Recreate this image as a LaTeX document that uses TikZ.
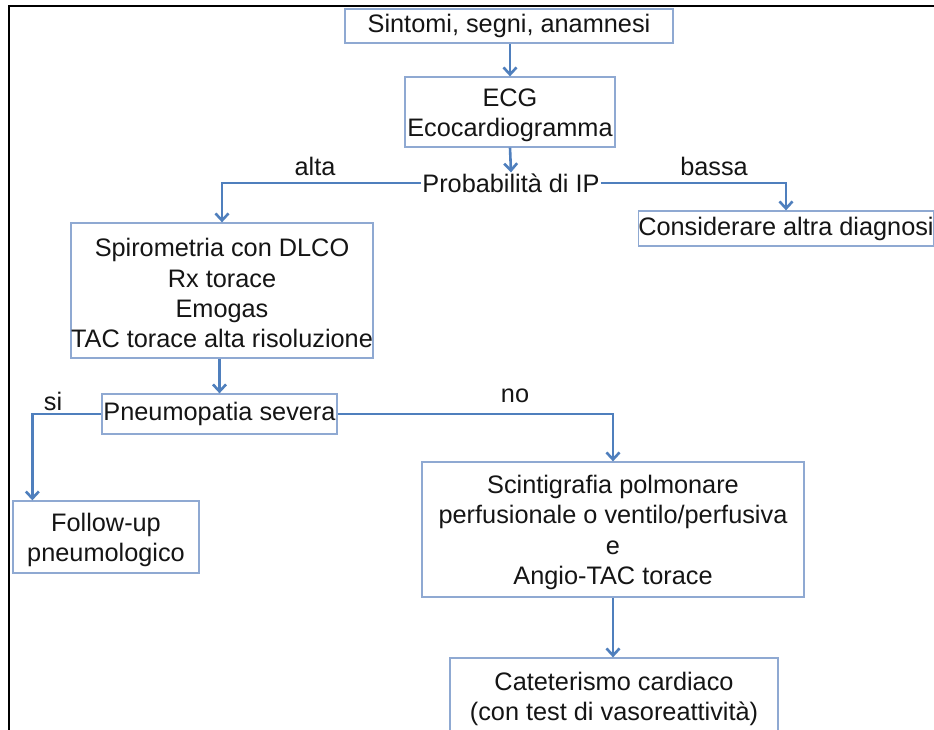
\documentclass[tikz,border=0pt]{standalone}
\usepackage{fontspec}
\setmainfont{Liberation Sans}
\usetikzlibrary{arrows.meta,calc}
\definecolor{boxblue}{HTML}{8FA9D2}
\definecolor{arrblue}{HTML}{4F7FBD}
\definecolor{txt}{HTML}{151515}
\newcommand\tpstrut{\rule{0pt}{24pt}}
\tikzset{
  box/.style={draw=boxblue, line width=1.3pt, inner sep=0pt, align=center, text=txt,
    font=\fontsize{25.3}{30.3}\selectfont},
  lbl/.style={inner sep=1pt, text=txt, font=\fontsize{25.3}{30}\selectfont},
  conn/.style={draw=arrblue, line width=2.6pt, -{Straight Barb[length=7pt,width=13pt]}},
}
\begin{document}
\begin{tikzpicture}[x=1pt,y=-1pt]
\clip (0,0) rectangle (934,729);
\fill[white] (0,0) rectangle (934,729);
\draw[line width=2pt, black] (936,6) -- (9,6) -- (9,731);

\node[box, minimum width=328pt, minimum height=34pt] (s1) at (509,26) {Sintomi, segni, anamnesi};
\node[box, minimum width=210pt, minimum height=70pt] (ecg) at (510,112) {\tpstrut ECG\\Ecocardiogramma};
\node[lbl] (prob) at (511,183) {Probabilità di IP};
\node[lbl] (alta) at (315,166) {alta};
\node[lbl] (bassa) at (714,166) {bassa};
\node[box, minimum width=300pt, minimum height=135pt] (spiro) at (222,290.5)
  {\tpstrut Spirometria con DLCO\\Rx torace\\Emogas\\TAC torace alta risoluzione};
\node[box, minimum width=294pt, minimum height=35pt] (cons) at (786,228.5) {Considerare altra diagnosi};
\node[box, minimum width=235pt, minimum height=40pt] (pneu) at (219.5,414) {Pneumopatia severa};
\node[lbl] (si) at (53,401) {si};
\node[lbl] (no) at (515,396) {no};
\node[box, minimum width=186pt, minimum height=72pt] (follow) at (106,537) {\tpstrut Follow-up\\pneumologico};
\node[box, minimum width=382pt, minimum height=135pt] (scint) at (613,529.5)
  {\tpstrut Scintigrafia polmonare\\perfusionale o ventilo/perfusiva\\e\\Angio-TAC torace};
\node[box, minimum width=328pt, minimum height=76pt] (cat) at (614,696)
  {\tpstrut Cateterismo cardiaco\\(con test di vasoreattività)};

\draw[conn] (s1.south -| ecg.north) -- (ecg.north);
\draw[conn] (ecg.south) -- (prob.north);
\draw[conn] (prob.west) -| (spiro.north);
\draw[conn] (prob.east) -| (cons.north);
\draw[conn] (pneu.north |- spiro.south) -- (pneu.north);
\draw[conn] (pneu.west) -| ([xshift=20pt]follow.north west);
\draw[conn] (pneu.east) -| (scint.north);
\draw[conn] (scint.south) -- (scint.south |- cat.north);
\end{tikzpicture}
\end{document}
